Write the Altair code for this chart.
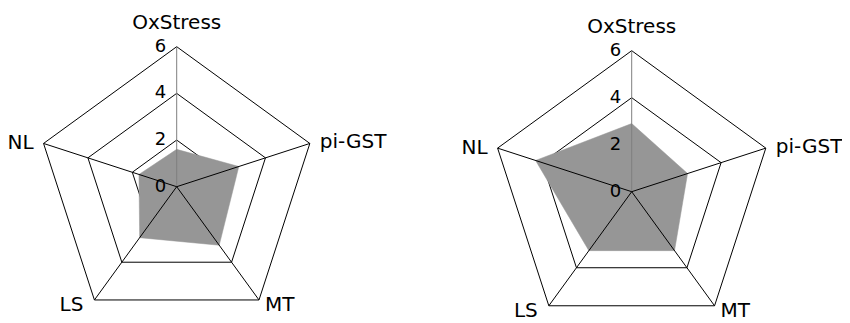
import math
import altair as alt
import pandas as pd

# ---- data ----
axes_names = ["OxStress", "pi-GST", "MT", "LS", "NL"]
left_values = [1.6, 2.8, 3.1, 2.7, 1.7]
right_values = [2.9, 2.5, 3.1, 3.1, 4.3]
grid_levels = [2, 4, 6]
tick_values = [0, 2, 4, 6]
max_value = 6

# ---- layout (pixels in the plot area) ----
W, H = 834, 315
panels = [
    {"panel": "A", "values": left_values, "cx": 168.7, "cy": 178.7, "R": 140.0},
    {"panel": "B", "values": right_values, "cx": 623.7, "cy": 183.7, "R": 141.0},
]
# label offsets from outer vertex: (dx, dy, align)
label_style = {
    "OxStress": (0, -24, "center"),
    "pi-GST": (10, -1, "left"),
    "MT": (6, 5, "left"),
    "LS": (-11, 5, "right"),
    "NL": (-10, 0, "right"),
}
FILL = "#969696"
FONT = "DejaVu Sans"


def pos(p, i, v):
    a = math.radians(90 - 72 * i)
    r = v / max_value * p["R"]
    return p["cx"] + r * math.cos(a), p["cy"] - r * math.sin(a)


poly_rows, grid_rows, spoke_rows, label_rows, tick_rows = [], [], [], [], []
for p in panels:
    for i, v in enumerate(p["values"]):
        x, y = pos(p, i, v)
        poly_rows.append({"panel": p["panel"], "idx": i, "x": x, "y": y})
    for lv in grid_levels:
        for i in range(5):
            x, y = pos(p, i, lv)
            grid_rows.append({"key": f"{p['panel']}{lv}", "idx": i, "x": x, "y": y})
    for i, name in enumerate(axes_names):
        x, y = pos(p, i, max_value)
        spoke_rows.append({"x": p["cx"], "y": p["cy"], "x2": x, "y2": y,
                           "main": i == 0})
        dx, dy, al = label_style[name]
        label_rows.append({"x": x + dx, "y": y + dy, "text": name, "align": al})
    for t in tick_values:
        x, y = pos(p, 0, t)
        tick_rows.append({"x": x - 10.5, "y": y, "text": str(t)})

poly = pd.DataFrame(poly_rows)
grid = pd.DataFrame(grid_rows)
spokes = pd.DataFrame(spoke_rows)
labels = pd.DataFrame(label_rows)
ticks = pd.DataFrame(tick_rows)

xs = alt.Scale(domain=[0, W], nice=False, zero=False)
ys = alt.Scale(domain=[0, H], nice=False, zero=False, reverse=True)
X = lambda f: alt.X(f"{f}:Q", scale=xs, axis=None)
Y = lambda f: alt.Y(f"{f}:Q", scale=ys, axis=None)

grid_layer = alt.Chart(grid).mark_line(
    interpolate="linear-closed", color="black", strokeWidth=1
).encode(x=X("x"), y=Y("y"), detail="key:N", order="idx:Q")

poly_layer = alt.Chart(poly).mark_line(
    interpolate="linear-closed", fill=FILL, stroke=FILL, strokeWidth=0.5, fillOpacity=1
).encode(x=X("x"), y=Y("y"), detail="panel:N", order="idx:Q")

spoke_layer = alt.Chart(spokes).mark_rule(strokeWidth=1).encode(
    x=X("x"), y=Y("y"), x2="x2:Q", y2="y2:Q",
    color=alt.condition("datum.main", alt.value("#7f7f7f"), alt.value("black")),
)

text_layers = []
for al in ["center", "left", "right"]:
    text_layers.append(
        alt.Chart(labels[labels["align"] == al]).mark_text(
            align=al, baseline="middle", font=FONT, fontSize=20, color="black"
        ).encode(x=X("x"), y=Y("y"), text="text:N")
    )

tick_layer = alt.Chart(ticks).mark_text(
    align="right", baseline="middle", font=FONT, fontSize=18, color="black"
).encode(x=X("x"), y=Y("y"), text="text:N")

chart = alt.layer(grid_layer, poly_layer, spoke_layer, tick_layer, *text_layers).properties(
    width=W, height=H, autosize="none", padding=0
).configure_view(stroke=None)

chart.save("out.html", embed_options={"renderer": "svg", "actions": False})
